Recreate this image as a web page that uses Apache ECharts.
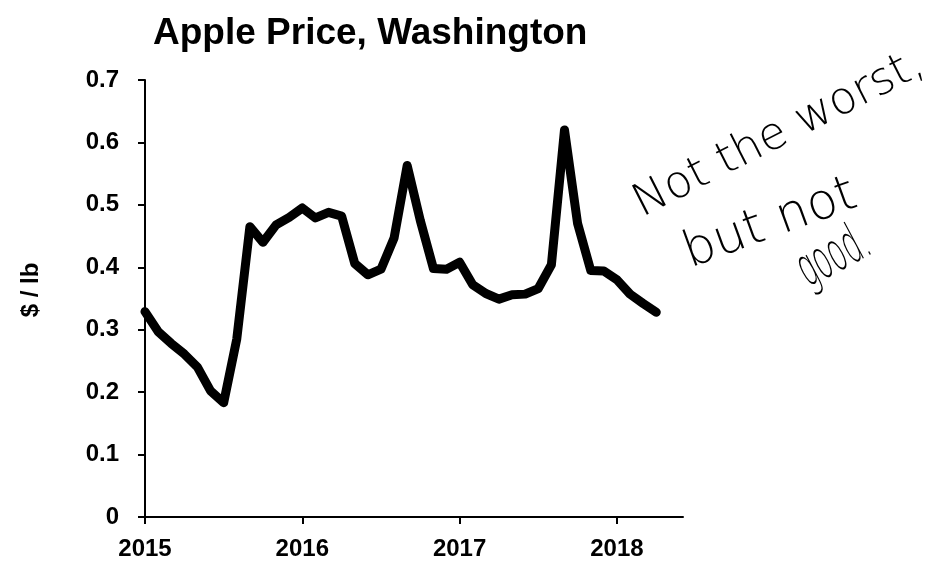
<!DOCTYPE html>
<html>
<head>
<meta charset="utf-8">
<title>Apple Price, Washington</title>
<script src="https://cdn.jsdelivr.net/npm/echarts@6/dist/echarts.min.js"></script>
<style>
  html, body { margin: 0; padding: 0; background: #fff; }
  #chart { width: 945px; height: 563px; }
</style>
</head>
<body>
<div id="chart"></div>
<script>
// Monthly observations, January 2015 to April 2018
const months = [
  '2015-01','2015-02','2015-03','2015-04','2015-05','2015-06','2015-07','2015-08','2015-09','2015-10','2015-11','2015-12',
  '2016-01','2016-02','2016-03','2016-04','2016-05','2016-06','2016-07','2016-08','2016-09','2016-10','2016-11','2016-12',
  '2017-01','2017-02','2017-03','2017-04','2017-05','2017-06','2017-07','2017-08','2017-09','2017-10','2017-11','2017-12',
  '2018-01','2018-02','2018-03','2018-04'
];

// Price in dollars per pound
const price = [
  0.329, 0.297, 0.278, 0.261, 0.240, 0.202, 0.183, 0.285, 0.465, 0.440, 0.468, 0.480,
  0.495, 0.479, 0.488, 0.482, 0.406, 0.388, 0.397, 0.447, 0.563, 0.475, 0.398, 0.397,
  0.408, 0.372, 0.358, 0.349, 0.356, 0.357, 0.366, 0.404, 0.620, 0.470, 0.395, 0.394,
  0.380, 0.357, 0.342, 0.328
];

const yearTicks = [2015, 2016, 2017, 2018];
const priceTicks = [0, 0.1, 0.2, 0.3, 0.4, 0.5, 0.6, 0.7];

const unitLabel = '$ / lb';
const noteLines = ['Not the worst,', 'but not', 'good.'];

// month string -> fractional year so the axis can place yearly ticks on January
function toYear(m) {
  const [y, mo] = m.split('-').map(Number);
  return y + (mo - 1) / 12;
}
const seriesData = months.map((m, i) => [toYear(m), price[i]]);

const FONT = '"Liberation Sans", Arial, Helvetica, sans-serif';
const HAND = '"DejaVu Sans", sans-serif';
const deg = d => d * Math.PI / 180;

const chart = echarts.init(document.getElementById('chart'), null, { renderer: 'canvas' });

chart.setOption({
  backgroundColor: '#ffffff',
  animation: false,
  title: {
    text: 'Apple Price, Washington',
    left: 148,
    top: 10,
    textStyle: { fontFamily: FONT, fontWeight: 'bold', fontSize: 37, color: '#000' }
  },
  grid: { left: 145, top: 80, width: 538, height: 437, containLabel: false },
  xAxis: {
    type: 'value',
    min: 2015,
    max: 2018.42,
    interval: 1,
    splitLine: { show: false },
    axisLine: { show: true, lineStyle: { color: '#000', width: 2 } },
    axisTick: { show: true, length: 7, lineStyle: { color: '#000', width: 2 }, customValues: yearTicks },
    axisLabel: {
      customValues: yearTicks,
      margin: 20,
      color: '#000',
      fontFamily: FONT,
      fontWeight: 'bold',
      fontSize: 24,
      formatter: v => String(v)
    }
  },
  yAxis: {
    type: 'value',
    min: 0,
    max: 0.7,
    interval: 0.1,
    splitLine: { show: false },
    axisLine: { show: true, lineStyle: { color: '#000', width: 2 } },
    axisTick: { show: true, length: 7, lineStyle: { color: '#000', width: 2 }, customValues: priceTicks },
    axisLabel: {
      customValues: priceTicks,
      margin: 26,
      color: '#000',
      fontFamily: FONT,
      fontWeight: 'bold',
      fontSize: 24,
      formatter: v => (v === 0 ? '0' : v.toFixed(1))
    }
  },
  series: [{
    type: 'line',
    data: seriesData,
    showSymbol: false,
    symbol: 'none',
    lineStyle: { color: '#000', width: 9, join: 'round', cap: 'round' },
    z: 3
  }],
  graphic: [
    // unit label for the price axis
    {
      type: 'text', x: 31, y: 290, rotation: deg(90),
      style: { text: unitLabel, font: 'bold 24px ' + FONT, fill: '#000', align: 'center', verticalAlign: 'middle' }
    },
    // handwritten-style note beside the chart
    {
      type: 'text', x: 647, y: 227, rotation: deg(27),
      style: { text: noteLines[0], font: '200 45px ' + HAND, fill: '#000', align: 'left', verticalAlign: 'bottom' }
    },
    {
      type: 'text', x: 694, y: 279, rotation: deg(20),
      style: { text: noteLines[1], font: '200 50px ' + HAND, fill: '#000', align: 'left', verticalAlign: 'bottom' }
    },
    {
      type: 'text', x: 814, y: 299, rotation: deg(28), scaleX: 0.5,
      style: { text: noteLines[2], font: '200 54px ' + HAND, fill: '#000', align: 'left', verticalAlign: 'bottom' }
    }
  ]
});
</script>
</body>
</html>
